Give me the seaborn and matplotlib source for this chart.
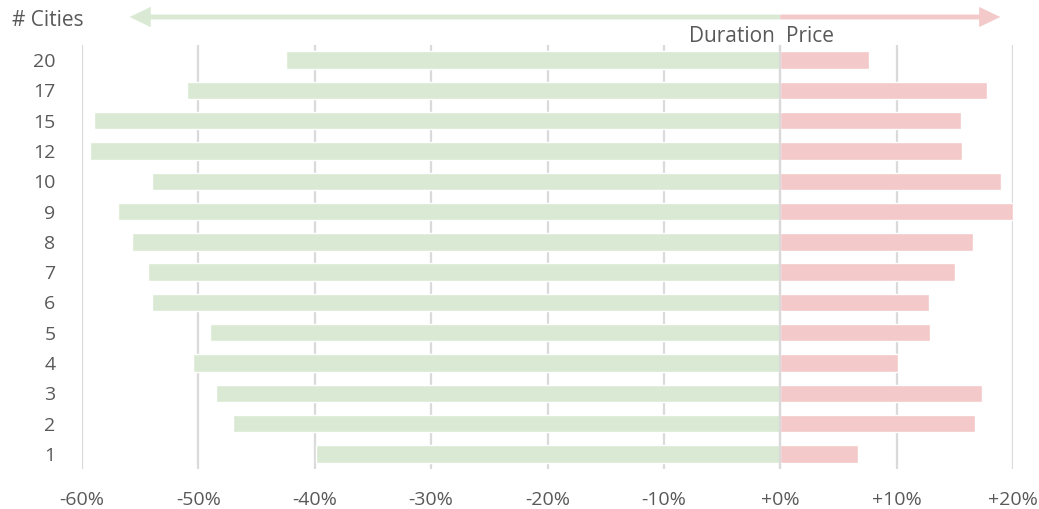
import matplotlib
matplotlib.use("Agg")
import matplotlib.pyplot as plt
import seaborn as sns
import pandas as pd

# Number of cities per trip, listed top to bottom
cities = ["20", "17", "15", "12", "10", "9", "8", "7", "6", "5", "4", "3", "2", "1"]
# Change in trip duration (%) and price (%)
duration = [-42.5, -51.0, -59.0, -59.3, -54.0, -56.9, -55.7, -54.3, -54.0, -49.0, -50.5, -48.5, -47.0, -39.9]
price = [7.6, 17.8, 15.5, 15.6, 19.0, 20.0, 16.6, 15.0, 12.8, 12.9, 10.1, 17.3, 16.7, 6.7]
x_ticks = [-60, -50, -40, -30, -20, -10, 0, 10, 20]
x_ticklabels = ["-60%", "-50%", "-40%", "-30%", "-20%", "-10%", "+0%", "+10%", "+20%"]

GREEN = "#d9e9d3"
RED = "#f3c9c9"
TEXT = "#595959"
GRID = "#dadada"

df = pd.DataFrame({"cities": cities, "duration": duration, "price": price})

sns.set_theme(style="white")
plt.rcParams["font.family"] = ["Open Sans", "DejaVu Sans"]

W, H = 1039, 509
fig = plt.figure(figsize=(W / 100, H / 100), dpi=100)
ax = fig.add_axes([82 / W, 1 - 469 / H, (1013 - 82) / W, (469 - 45) / H])

sns.barplot(data=df, y="cities", x="duration", order=cities, color=GREEN,
            orient="h", width=0.58, saturation=1, ax=ax, zorder=2)
sns.barplot(data=df, y="cities", x="price", order=cities, color=RED,
            orient="h", width=0.58, saturation=1, ax=ax, zorder=2)

ax.set_xlim(-60, 20)
ax.set_ylim(len(cities) - 0.5, -0.5)
ax.set_xticks(x_ticks)
ax.set_xticklabels(x_ticklabels)
ax.set_xlabel("")
ax.set_ylabel("")
for s in ax.spines.values():
    s.set_visible(False)
ax.xaxis.grid(True, color=GRID, lw=1.6, zorder=0)
ax.yaxis.grid(False)
ax.set_axisbelow(True)
ax.axvline(0, color=GRID, lw=1.6, zorder=3)
ax.tick_params(axis="x", length=0, pad=16, labelsize=14, labelcolor=TEXT)
ax.tick_params(axis="y", length=0, pad=19, labelsize=14, labelcolor=TEXT)

# Direction arrows above the plot: a flat shaft plus a filled head
arrow_y = 1 - 17 / H
tr = ax.get_xaxis_transform()
y_ax = (arrow_y - (1 - 469 / H)) / ((469 - 45) / H)
head_len = 1.3  # data units (%) for the head length
for end, col in [(-55.9, GREEN), (18.9, RED)]:
    sign = 1 if end > 0 else -1
    ax.annotate("", xy=(end - sign * head_len * 0.6, y_ax), xytext=(0, y_ax),
                xycoords=tr, textcoords=tr, annotation_clip=False,
                arrowprops=dict(arrowstyle="-", color=col, lw=3.5,
                                shrinkA=0, shrinkB=0, capstyle="butt"))
    ax.annotate("", xy=(end, y_ax), xytext=(end - sign * head_len, y_ax),
                xycoords=tr, textcoords=tr, annotation_clip=False,
                arrowprops=dict(arrowstyle="-|>,head_length=0.75,head_width=0.36",
                                color=col, lw=0.1, shrinkA=0, shrinkB=0,
                                mutation_scale=20))

fig.text(775 / W, 1 - 36 / H, "Duration", ha="right", va="center", fontsize=15, color=TEXT)
fig.text(786 / W, 1 - 36 / H, "Price", ha="left", va="center", fontsize=15, color=TEXT)
fig.text(12 / W, 1 - 21 / H, "# Cities", ha="left", va="center", fontsize=15, color=TEXT)

fig.savefig("out.png", dpi=100)
